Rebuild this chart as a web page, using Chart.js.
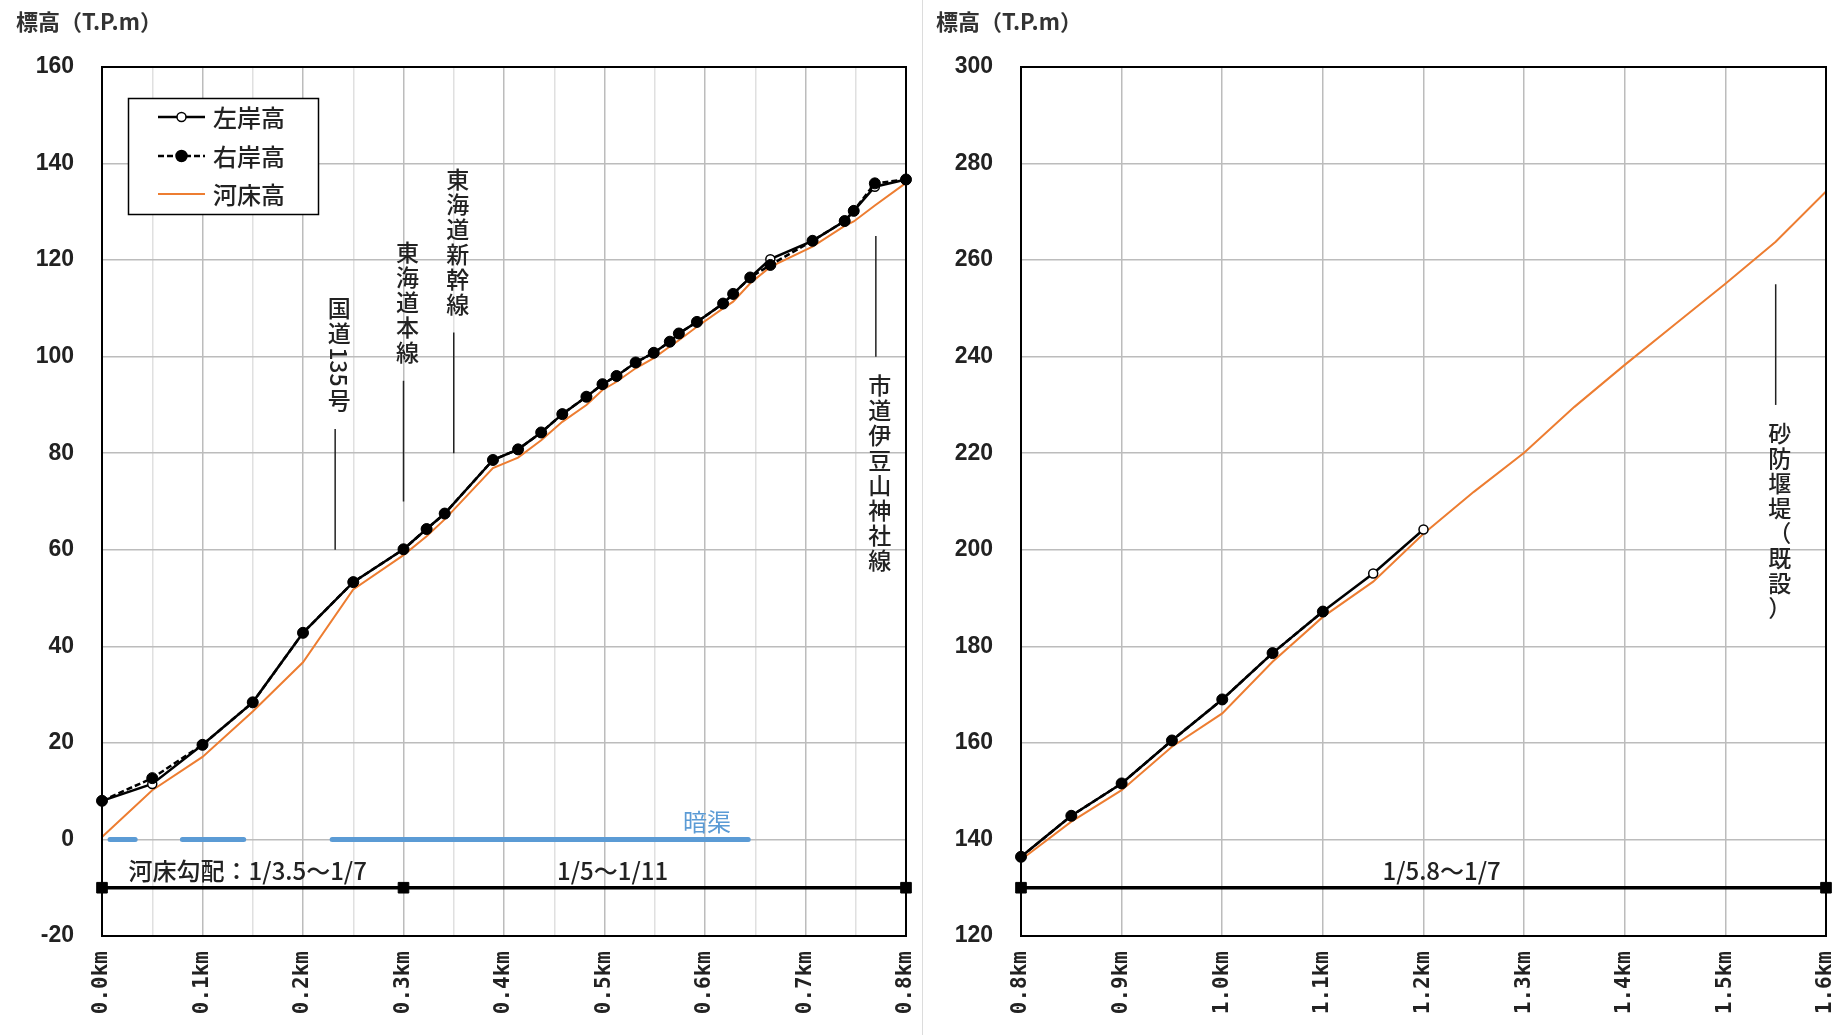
<!DOCTYPE html>
<html lang="ja">
<head>
<meta charset="utf-8">
<title>河床縦断図</title>
<script src="https://cdn.jsdelivr.net/npm/chart.js@4.4.1/dist/chart.umd.min.js"></script>
<style>
  html, body { margin: 0; padding: 0; background: #fff; }
  #wrap { position: relative; width: 1841px; height: 1035px; overflow: hidden; }
  .pane { position: absolute; top: 0; height: 1035px; }
  #leftPane { left: 0; width: 920px; }
  #rightPane { left: 920px; width: 921px; }
  #sep { position: absolute; left: 922px; top: 0; width: 1px; height: 1035px; background: #dcdcdc; }
</style>
</head>
<body>
<div id="wrap">
  <div class="pane" id="leftPane"><canvas id="leftChart" width="920" height="1035"></canvas></div>
  <div id="sep"></div>
  <div class="pane" id="rightPane"><canvas id="rightChart" width="921" height="1035"></canvas></div>
</div>
<script>
// ---- 0.0km ~ 0.8km ----
const distA = [0, 0.05, 0.1, 0.15, 0.2, 0.25, 0.3, 0.323, 0.341, 0.389, 0.414, 0.437, 0.458, 0.482, 0.498,
  0.512, 0.531, 0.549, 0.565, 0.574, 0.592, 0.618, 0.628, 0.645, 0.665, 0.707, 0.739, 0.748, 0.769, 0.8];
const leftBankA = [8.0, 11.5, 19.6, 28.4, 42.8, 53.3, 60.1, 64.3, 67.5, 78.6, 80.8, 84.3, 88.1, 91.7, 94.3,
  96.0, 98.8, 100.8, 103.1, 104.8, 107.2, 111.0, 113.0, 116.4, 120.2, 124.0, 128.1, 130.2, 135.2, 136.7];
const rightBankA = [8.0, 12.7, 19.6, 28.4, 42.8, 53.3, 60.1, 64.3, 67.5, 78.6, 80.8, 84.3, 88.1, 91.7, 94.3,
  96.0, 98.8, 100.8, 103.1, 104.8, 107.2, 111.0, 113.0, 116.4, 119.0, 124.0, 128.1, 130.2, 135.9, 136.7];
const bedA = [0.5, 10.2, 17.1, 26.5, 36.7, 51.8, 58.9, 62.8, 66.3, 76.9, 79.1, 82.7, 86.5, 90.0, 93.1,
  94.8, 97.6, 99.7, 102.1, 103.4, 106.2, 110.0, 111.4, 115.2, 118.6, 122.8, 127.1, 128.0, 131.3, 136.0];

// ---- 0.8km ~ 1.6km ----
const distB = [0.8, 0.85, 0.9, 0.95, 1.0, 1.05, 1.1, 1.15, 1.2];
const leftBankB = [136.4, 144.9, 151.6, 160.5, 169.0, 178.6, 187.2, 195.1, 204.2];
const rightBankB = [136.4, 144.9, 151.6, 160.5, 169.0, 178.6, 187.2];
const bedDistB = [0.8, 0.85, 0.9, 0.95, 1.0, 1.05, 1.1, 1.15, 1.2, 1.25, 1.3, 1.35, 1.4, 1.45, 1.5, 1.55, 1.6];
const bedB = [135.8, 143.7, 150.2, 159.2, 166.1, 176.8, 186.1, 193.4, 203.3, 212.0, 220.1, 229.6, 238.3, 246.7, 255.1, 263.8, 274.2];

// 河床勾配 section breaks and the level the bar is drawn at
const gradeBreaksA = [0, 0.3, 0.8];
const gradeBreaksB = [0.8, 1.6];
const gradeLevelA = -10;
const gradeLevelB = 130;
const gradeTextA = ['河床勾配：1/3.5～1/7', '1/5～1/11'];
const gradeTextB = ['1/5.8～1/7'];

// 暗渠 sections [from, to] in km
const culverts = [[0.008, 0.033], [0.080, 0.141], [0.229, 0.643]];

// axes
const xRangeA = [0, 0.8];
const xRangeB = [0.8, 1.6];
const yRangeA = [-20, 160];
const yRangeB = [120, 300];
const yStep = 20;

const BLACK = '#000';
const ORANGE = '#ED7D31';
const BLUE = '#5B9BD5';
const CJK = '"Noto Sans CJK JP", "Noto Sans", sans-serif';

const pts = (xs, ys) => ys.map((v, i) => ({ x: xs[i], y: v }));
const flat = (xs, level) => xs.map(v => ({ x: v, y: level }));

function drawNote(ctx, xs, ys, n) {
  const px = xs.getPixelForValue(n.x);
  const top = ys.getPixelForValue(n.from);
  const bot = ys.getPixelForValue(n.to);
  ctx.strokeStyle = '#222';
  ctx.lineWidth = 1.5;
  ctx.beginPath();
  ctx.moveTo(px, top);
  ctx.lineTo(px, bot);
  ctx.stroke();

  ctx.font = '500 23px ' + CJK;
  ctx.fillStyle = '#222';
  ctx.textAlign = 'center';
  ctx.textBaseline = 'middle';
  const runs = n.text.match(/[0-9]+|./gu);
  const sizes = runs.map(r => /^[0-9]/.test(r) ? ctx.measureText(r).width + 3 : 25);
  const total = sizes.reduce((s, v) => s + v, 0);
  let cy = n.side === 'above' ? top - 16 - total : bot + 16;
  const cx = px + 4;
  runs.forEach((r, i) => {
    const h = sizes[i];
    if (/^[0-9]/.test(r)) {
      ctx.save();
      ctx.translate(cx, cy + h / 2);
      ctx.rotate(Math.PI / 2);
      ctx.fillText(r, 0, 0);
      ctx.restore();
    } else {
      ctx.fillText(r, cx, cy + h / 2);
    }
    cy += h;
  });
}

function drawLegend(chart) {
  const ctx = chart.ctx;
  const items = chart.data.datasets.slice(0, 3);
  ctx.fillStyle = '#fff';
  ctx.fillRect(128, 98, 190, 116);
  ctx.strokeStyle = BLACK;
  ctx.lineWidth = 1.5;
  ctx.strokeRect(128.5, 98.5, 190, 116);
  const rows = [117, 156, 194];
  items.forEach((ds, i) => {
    const y = rows[i];
    ctx.save();
    ctx.strokeStyle = ds.borderColor;
    ctx.lineWidth = ds.borderWidth;
    ctx.setLineDash(ds.borderDash || []);
    ctx.beginPath();
    ctx.moveTo(158, y);
    ctx.lineTo(205, y);
    ctx.stroke();
    ctx.setLineDash([]);
    if (ds.pointRadius > 0) {
      ctx.beginPath();
      ctx.arc(181.5, y, ds.pointRadius, 0, Math.PI * 2);
      ctx.fillStyle = ds.pointBackgroundColor;
      ctx.fill();
      ctx.lineWidth = 1.5;
      ctx.strokeStyle = BLACK;
      ctx.stroke();
    }
    ctx.restore();
    ctx.fillStyle = '#222';
    ctx.font = '500 24px ' + CJK;
    ctx.textAlign = 'left';
    ctx.textBaseline = 'middle';
    ctx.fillText(ds.label, 213, y + 1);
  });
}

const sheetPlugin = {
  id: 'sheet',
  afterDraw(chart, args, opts) {
    const { ctx, chartArea: a } = chart;
    const xs = chart.scales.x, ys = chart.scales.y;
    ctx.save();

    ctx.fillStyle = '#333';
    ctx.font = 'bold 22px ' + CJK;
    ctx.textAlign = 'left';
    ctx.textBaseline = 'middle';
    ctx.fillText('標高（T.P.m）', 16, 22);

    if (opts.culvertLabel) {
      ctx.fillStyle = BLUE;
      ctx.font = '24px ' + CJK;
      ctx.textAlign = 'center';
      ctx.textBaseline = 'middle';
      ctx.fillText(opts.culvertLabel.text, xs.getPixelForValue(opts.culvertLabel.x), ys.getPixelForValue(0) - 18);
    }

    ctx.fillStyle = '#222';
    ctx.font = '500 24px ' + CJK;
    ctx.textAlign = 'center';
    ctx.textBaseline = 'alphabetic';
    opts.grades.forEach(g => {
      ctx.fillText(g.text, xs.getPixelForValue(g.x), ys.getPixelForValue(opts.gradeLevel) - 8);
    });

    opts.notes.forEach(n => drawNote(ctx, xs, ys, n));

    ctx.strokeStyle = BLACK;
    ctx.lineWidth = 2;
    ctx.strokeRect(a.left, a.top, a.width, a.height);

    if (opts.legend) drawLegend(chart);
    ctx.restore();
  }
};

function bankSets(dist, left, right, bedDist, bed) {
  return [
    { label: '左岸高', data: pts(dist, left), borderColor: BLACK, borderWidth: 2.5,
      pointRadius: 4.5, pointBackgroundColor: '#fff', pointBorderColor: BLACK, pointBorderWidth: 1.5,
      clip: false, order: 3 },
    { label: '右岸高', data: pts(dist, right), borderColor: BLACK, borderWidth: 2.5, borderDash: [6, 3],
      pointRadius: 5.5, pointBackgroundColor: BLACK, pointBorderColor: BLACK, pointBorderWidth: 1,
      clip: false, order: 2 },
    { label: '河床高', data: pts(bedDist, bed), borderColor: ORANGE, borderWidth: 2,
      pointRadius: 0, clip: false, order: 4 }
  ];
}

function gradeSet(breaks, level) {
  return { label: '河床勾配', data: flat(breaks, level), borderColor: BLACK, borderWidth: 3.5,
    pointStyle: 'rect', pointRadius: 7.5, pointBackgroundColor: BLACK, pointBorderColor: BLACK,
    pointBorderWidth: 1, clip: false, order: 1 };
}

function makeChart(id, cfg) {
  const minor = v => Math.round(v * 100) % 10 !== 0;
  return new Chart(document.getElementById(id), {
    type: 'line',
    data: { datasets: cfg.datasets },
    options: {
      responsive: false,
      animation: false,
      events: [],
      layout: { padding: { top: 67, right: cfg.padRight, left: 0, bottom: 0 } },
      plugins: {
        legend: { display: false },
        tooltip: { enabled: false },
        sheet: cfg.sheet
      },
      scales: {
        x: {
          type: 'linear',
          min: cfg.xRange[0], max: cfg.xRange[1],
          afterFit: s => { s.height = 99; s.paddingLeft = 0; s.paddingRight = 0; },
          border: { display: false },
          grid: {
            drawTicks: false,
            lineWidth: 1.5,
            color: c => (c.tick && minor(c.tick.value)) ? '#e0e0e0' : '#bcbcbc'
          },
          ticks: {
            stepSize: cfg.xStep,
            autoSkip: false,
            minRotation: 90, maxRotation: 90,
            padding: 15,
            color: '#222',
            font: { family: '"DejaVu Sans Mono", monospace', weight: 'bold', size: 21 },
            callback: v => minor(v) ? '' : v.toFixed(1) + 'km'
          }
        },
        y: {
          min: cfg.yRange[0], max: cfg.yRange[1],
          afterFit: s => { s.width = cfg.yWidth; },
          border: { display: false },
          grid: { drawTicks: false, lineWidth: 1.5, color: '#bcbcbc' },
          ticks: {
            stepSize: yStep,
            padding: 28,
            color: '#222',
            font: { family: '"Liberation Sans", Arial, sans-serif', weight: 'bold', size: 23 }
          }
        }
      }
    },
    plugins: [sheetPlugin]
  });
}

const culvertData = culverts.flatMap(([a, b]) => [{ x: a, y: 0 }, { x: b, y: 0 }, { x: b, y: null }]);

makeChart('leftChart', {
  xRange: xRangeA, yRange: yRangeA, xStep: 0.05, yWidth: 102, padRight: 14,
  datasets: [
    ...bankSets(distA, leftBankA, rightBankA, distA, bedA),
    gradeSet(gradeBreaksA, gradeLevelA),
    { label: '暗渠', data: culvertData, borderColor: BLUE, borderWidth: 5, borderCapStyle: 'round',
      pointRadius: 0, spanGaps: false, order: 5 }
  ],
  sheet: {
    legend: true,
    gradeLevel: gradeLevelA,
    grades: [{ text: gradeTextA[0], x: 0.145 }, { text: gradeTextA[1], x: 0.508 }],
    culvertLabel: { text: '暗渠', x: 0.602 },
    notes: [
      { text: '国道135号', x: 0.232, from: 85, to: 60, side: 'above' },
      { text: '東海道本線', x: 0.300, from: 95, to: 70, side: 'above' },
      { text: '東海道新幹線', x: 0.350, from: 105, to: 80, side: 'above' },
      { text: '市道伊豆山神社線', x: 0.770, from: 125, to: 100, side: 'below' }
    ]
  }
});

makeChart('rightChart', {
  xRange: xRangeB, yRange: yRangeB, xStep: 0.1, yWidth: 101, padRight: 15,
  datasets: [
    ...bankSets(distB, leftBankB, rightBankB, bedDistB, bedB),
    gradeSet(gradeBreaksB, gradeLevelB)
  ],
  sheet: {
    legend: false,
    gradeLevel: gradeLevelB,
    grades: [{ text: gradeTextB[0], x: 1.218 }],
    notes: [
      { text: '砂防堰堤（既設）', x: 1.55, from: 255, to: 230, side: 'below' }
    ]
  }
});
</script>
</body>
</html>
